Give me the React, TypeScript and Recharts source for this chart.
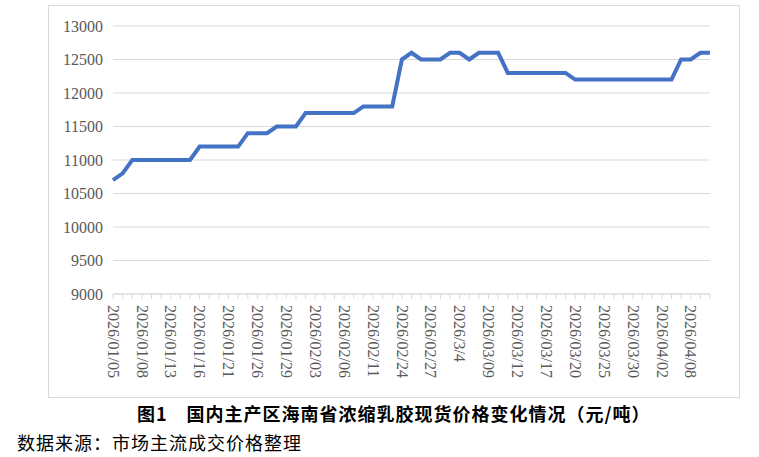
import { LineChart, Line, XAxis, YAxis, CartesianGrid } from 'recharts';

const dates = [
    '2026/01/05', '2026/01/06', '2026/01/07', '2026/01/08', '2026/01/09', '2026/01/12', '2026/01/13',
    '2026/01/14', '2026/01/15', '2026/01/16', '2026/01/19', '2026/01/20', '2026/01/21', '2026/01/22',
    '2026/01/23', '2026/01/26', '2026/01/27', '2026/01/28', '2026/01/29', '2026/01/30', '2026/02/02',
    '2026/02/03', '2026/02/04', '2026/02/05', '2026/02/06', '2026/02/09', '2026/02/10', '2026/02/11',
    '2026/02/12', '2026/02/13', '2026/02/24', '2026/02/25', '2026/02/26', '2026/02/27', '2026/03/02',
    '2026/03/03', '2026/3/4', '2026/03/05', '2026/03/06', '2026/03/09', '2026/03/10', '2026/03/11',
    '2026/03/12', '2026/03/13', '2026/03/16', '2026/03/17', '2026/03/18', '2026/03/19', '2026/03/20',
    '2026/03/23', '2026/03/24', '2026/03/25', '2026/03/26', '2026/03/27', '2026/03/30', '2026/03/31',
    '2026/04/01', '2026/04/02', '2026/04/03', '2026/04/07', '2026/04/08', '2026/04/09', '2026/04/10',
];

const prices = [
    10700, 10800, 11000, 11000, 11000, 11000, 11000,
    11000, 11000, 11200, 11200, 11200, 11200, 11200,
    11400, 11400, 11400, 11500, 11500, 11500, 11700,
    11700, 11700, 11700, 11700, 11700, 11800, 11800,
    11800, 11800, 12500, 12600, 12500, 12500, 12500,
    12600, 12600, 12500, 12600, 12600, 12600, 12300,
    12300, 12300, 12300, 12300, 12300, 12300, 12200,
    12200, 12200, 12200, 12200, 12200, 12200, 12200,
    12200, 12200, 12200, 12500, 12500, 12600, 12600,
];

const yTicks = [9000, 9500, 10000, 10500, 11000, 11500, 12000, 12500, 13000];

const title = '图1\u3000国内主产区海南省浓缩乳胶现货价格变化情况（元/吨）';
const source = '数据来源：市场主流成交价格整理';

const data = dates.map((d, i) => ({ date: d, price: prices[i] }));

const serif = '"Liberation Serif", "DejaVu Serif", serif';
const cjk = '"Noto Sans CJK SC", sans-serif';

// only every third date gets a label, but every category keeps its tick mark
function DateTick(props: any) {
    const { x, y, payload, index } = props;
    if (index % 3 !== 0) return <g />;
    return (
        <g transform={`translate(${x},${y})`}>
            <text
                transform="rotate(90)"
                x={0}
                y={0}
                dy="0.33em"
                textAnchor="start"
                fill="#595959"
                fontSize={16}
                style={{ fontFamily: serif }}
            >
                {payload.value}
            </text>
        </g>
    );
}

export default function App() {
    return (
        <div style={{ position: 'absolute', left: 0, top: 0, width: 759, height: 457, background: '#fff' }}>
            <div
                style={{
                    position: 'absolute',
                    left: 48,
                    top: 5,
                    width: 690,
                    height: 391,
                    border: '1px solid #d9d9d9',
                }}
            />
            <div style={{ position: 'absolute', left: 0, top: 0 }}>
                <LineChart
                    width={759}
                    height={400}
                    data={data}
                    margin={{ top: 26, right: 49, left: 0, bottom: 16 }}
                >
                    <CartesianGrid vertical={false} stroke="#d9d9d9" />
                    <XAxis
                        dataKey="date"
                        interval={0}
                        height={90}
                        tickSize={5}
                        tickMargin={6}
                        stroke="#d9d9d9"
                        tick={<DateTick />}
                    />
                    <YAxis
                        width={113}
                        domain={[9000, 13000]}
                        ticks={yTicks}
                        axisLine={false}
                        tickLine={false}
                        tickMargin={4}
                        tick={{ fill: '#595959', fontSize: 16, style: { fontFamily: serif } }}
                    />
                    <Line
                        type="linear"
                        dataKey="price"
                        stroke="#4472C4"
                        strokeWidth={4}
                        dot={false}
                        isAnimationActive={false}
                    />
                </LineChart>
            </div>
            <div
                style={{
                    position: 'absolute',
                    left: 137,
                    top: 402,
                    lineHeight: '22px',
                    fontSize: 18,
                    fontWeight: 'bold',
                    letterSpacing: 1,
                    fontFamily: cjk,
                    color: '#000',
                    whiteSpace: 'nowrap',
                }}
            >
                {title}
            </div>
            <div
                style={{
                    position: 'absolute',
                    left: 17,
                    top: 431,
                    lineHeight: '22px',
                    fontSize: 18,
                    letterSpacing: 1,
                    fontFamily: cjk,
                    color: '#000',
                    whiteSpace: 'nowrap',
                }}
            >
                {source}
            </div>
        </div>
    );
}
